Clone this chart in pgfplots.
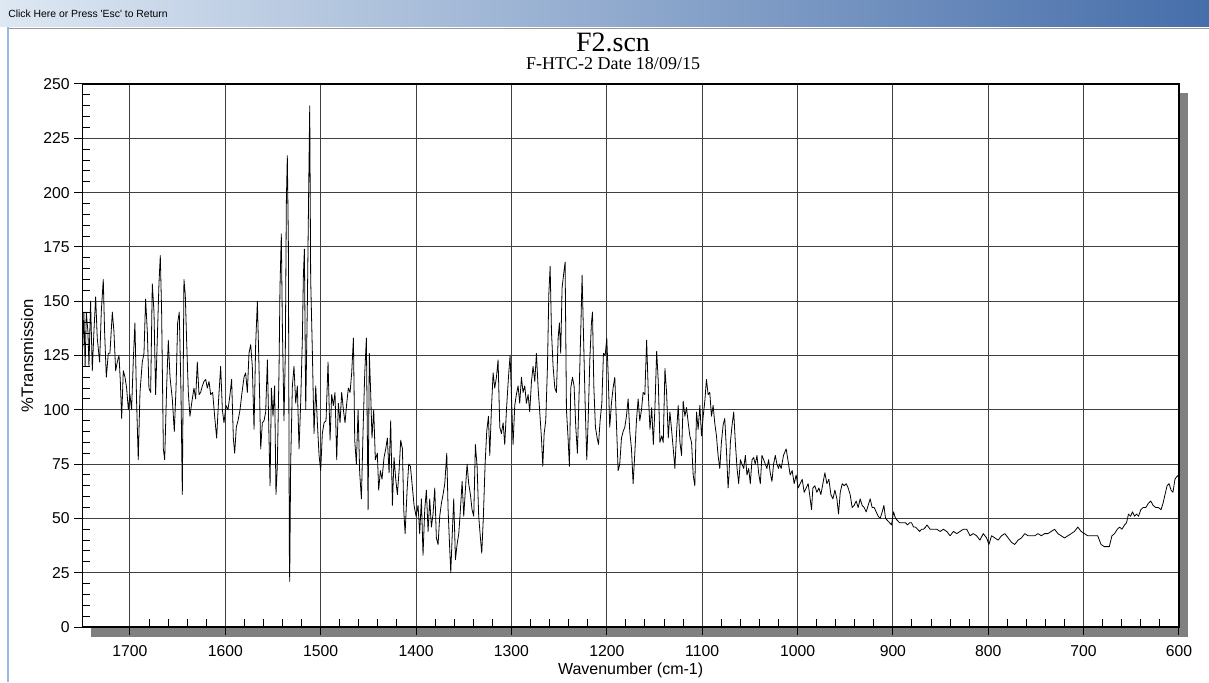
\documentclass[border=0pt]{standalone}
\usepackage{fontspec}
\setmainfont{Liberation Sans}
\newfontfamily\ttlfont{Liberation Serif}
\usepackage{pgfplots}
\pgfplotsset{compat=1.18}
\definecolor{shadowgray}{RGB}{128,128,128}
\definecolor{barleft}{RGB}{222,232,243}
\definecolor{barmid}{RGB}{170,195,225}
\definecolor{barright}{RGB}{70,110,170}
\definecolor{frameblue}{RGB}{150,185,225}
\begin{document}
\begin{tikzpicture}[x=0.75pt,y=0.75pt]
\useasboundingbox (0,0) rectangle (1209,682);
\fill[white] (0,0) rectangle (1209,682);
% window title bar
\shade[left color=barleft, middle color=barmid, right color=barright] (0,655) rectangle (1209,682);
\node[anchor=west, inner sep=0pt, font=\fontsize{7.8}{9}\selectfont] at (8,668) {Click Here or Press \textquotesingle Esc\textquotesingle\ to Return};
\draw[frameblue, line width=1.5pt] (8,0) -- (8,655);
\draw[black!40, line width=0.6pt] (9,654) -- (1209,654);
% titles
\node[font=\ttlfont\fontsize{21}{23}\selectfont] at (613,640) {F2.scn};
\node[font=\ttlfont\fontsize{13.5}{15}\selectfont] at (613,618) {F-HTC-2 Date 18/09/15};
% shadow of the plot box
\fill[shadowgray] (91.3,45) rectangle (1188,589);
\begin{axis}[
  at={(61.725pt,41.25pt)}, anchor=south west, scale only axis,
  width=822.5pt, height=407.25pt,
  x dir=reverse, xmin=600, xmax=1750, ymin=0, ymax=250,
  xtick={600,700,...,1700}, ytick={0,25,...,250},
  minor x tick num=4, minor y tick num=4,
  grid=major, major grid style={black!75, line width=0.75pt},
  axis background/.style={fill=white},
  axis line style={black, line width=0.9pt},
  xtick pos=left, ytick pos=left,
  tick align=outside, major tick length=6pt, minor tick length=6pt,
  tick style={black, line width=0.75pt},
  minor x tick style={yshift=6pt},
  minor y tick style={xshift=6pt},
  ticklabel style={font=\fontsize{11.8}{13}\selectfont},
  xticklabel style={yshift=-4.5pt},
  /pgf/number format/assume math mode=true,
  /pgf/number format/set thousands separator={},
  xlabel={Wavenumber (cm-1)}, ylabel={\%Transmission},
  xlabel style={font=\fontsize{12}{14}\selectfont, at={(axis description cs:0.5,-0.079)}, anchor=center},
  ylabel style={font=\fontsize{12.5}{14}\selectfont, at={(axis description cs:-0.0502,0.5)}, anchor=center},
]
\addplot[black, line width=0.6pt, line join=round] table {
x y
1749.5 128
1748.3 145
1747.0 120
1745.8 145
1744.1 136
1743.0 120
1741.3 150
1739.5 118
1737.8 136
1736.0 152
1734.3 133
1731.8 122
1730.1 145
1728.0 160
1726.6 136
1724.8 115
1722.7 126
1721.0 126
1718.5 145
1716.8 136
1715.0 118
1713.3 122
1711.5 125
1710.1 113
1708.7 96
1707.0 118
1705.2 115
1703.5 110
1701.7 100
1700.0 107
1698.3 100
1696.5 123
1694.8 140
1693.0 103
1691.3 77
1689.5 108
1687.1 122
1685.3 126
1683.6 151
1681.8 136
1680.1 110
1678.3 108
1676.6 158
1674.8 145
1673.1 107
1671.3 133
1669.6 158
1668.2 171
1666.8 145
1665.0 82
1663.6 77
1661.5 111
1659.8 132
1658.0 115
1655.6 105
1653.5 90
1651.7 110
1650.0 140
1648.3 145
1646.5 108
1645.1 61
1643.4 160
1642.0 153
1640.6 132
1638.8 108
1637.1 97
1635.3 103
1632.9 110
1631.1 105
1629.4 122
1627.6 107
1625.9 108
1624.1 111
1622.4 113
1620.6 114
1618.9 110
1617.1 113
1615.4 107
1613.3 108
1611.2 97
1609.1 87
1607.0 105
1604.9 120
1603.1 100
1601.4 94
1599.3 102
1597.2 100
1595.1 107
1593.4 114
1591.6 87
1590.2 80
1588.5 92
1586.7 95
1584.6 100
1582.5 108
1580.4 115
1578.7 117
1576.9 108
1575.2 126
1573.4 130
1571.7 120
1569.9 91
1568.2 130
1566.4 150
1564.7 120
1562.9 82
1561.2 94
1559.4 95
1557.7 99
1555.9 123
1554.2 87
1553.1 65
1551.7 110
1550.0 97
1548.3 111
1546.9 61
1545.5 74
1543.7 118
1542.7 156
1541.3 181
1540.2 139
1538.5 95
1537.1 126
1536.0 196
1535.0 217
1533.9 177
1532.9 36
1532.5 21
1531.5 75
1529.7 111
1528.0 120
1526.2 103
1524.5 111
1522.7 82
1521.0 103
1519.2 133
1518.2 161
1517.1 174
1515.7 100
1514.0 148
1512.6 201
1511.5 240
1510.5 160
1508.7 126
1507.0 89
1505.2 111
1503.5 94
1501.7 79
1500.0 72
1498.3 89
1496.5 94
1494.4 95
1492.3 122
1490.2 86
1488.5 107
1486.7 102
1485.0 108
1483.2 77
1481.5 103
1479.7 94
1478.0 108
1476.2 100
1474.5 94
1472.7 103
1471.0 110
1469.2 108
1467.5 117
1465.7 133
1464.3 86
1462.6 75
1460.8 100
1459.1 71
1457.3 59
1455.6 90
1453.8 117
1452.1 133
1450.3 54
1449.0 126
1447.6 108
1446.2 87
1444.4 100
1442.7 77
1440.6 80
1439.2 63
1437.4 72
1435.7 68
1433.6 78
1431.8 82
1430.1 87
1428.3 71
1426.6 95
1424.8 56
1423.1 78
1421.3 68
1419.6 61
1417.8 72
1416.1 86
1414.3 82
1412.9 54
1411.5 43
1409.4 63
1407.7 75
1405.9 74
1404.2 66
1402.1 56
1400.0 51
1397.9 56
1396.2 43
1394.4 59
1392.7 33
1390.9 54
1389.2 63
1387.4 44
1385.7 59
1383.9 46
1382.2 52
1380.4 64
1378.7 41
1376.9 38
1375.2 51
1373.4 57
1371.7 61
1369.9 66
1367.8 80
1366.4 54
1364.7 36
1363.6 25
1362.2 41
1360.5 59
1358.7 31
1357.0 38
1355.2 43
1353.5 54
1351.7 67
1350.0 51
1348.3 63
1346.5 75
1344.8 66
1343.0 61
1341.3 54
1339.5 51
1337.8 84
1336.0 74
1334.3 51
1332.5 41
1331.1 34
1329.4 51
1327.6 75
1325.9 90
1324.1 97
1322.7 79
1321.0 100
1319.2 117
1317.5 110
1315.7 115
1314.0 123
1312.2 92
1310.5 89
1308.7 94
1307.0 84
1305.2 100
1303.1 115
1301.4 125
1300.0 107
1298.3 84
1296.5 102
1294.8 107
1293.0 111
1291.3 103
1289.5 115
1287.8 108
1286.0 111
1284.3 103
1282.5 107
1280.8 99
1279.0 113
1277.3 120
1275.5 113
1273.8 126
1272.0 110
1270.3 99
1268.5 87
1267.1 74
1265.7 89
1264.0 95
1262.2 120
1260.8 153
1259.4 166
1258.0 136
1256.3 120
1254.5 110
1252.8 108
1251.0 133
1249.7 140
1248.3 126
1246.9 156
1245.1 163
1243.7 168
1242.3 100
1240.6 87
1239.2 74
1237.8 110
1236.0 115
1234.3 111
1232.5 92
1230.8 80
1229.0 108
1227.3 136
1225.9 162
1224.5 136
1222.7 103
1221.0 77
1219.6 94
1217.8 123
1216.1 140
1215.0 145
1213.6 111
1211.9 92
1210.1 87
1208.7 84
1207.0 95
1205.2 103
1203.5 126
1201.7 125
1200.0 133
1198.6 117
1196.9 92
1195.1 103
1193.4 110
1191.6 115
1189.9 94
1188.1 72
1186.4 75
1184.6 87
1182.9 90
1181.1 92
1179.4 97
1177.6 105
1175.9 90
1174.1 82
1172.4 66
1170.6 80
1168.9 95
1167.1 105
1165.4 95
1163.6 100
1161.9 108
1160.1 107
1158.2 132
1156.4 107
1154.7 91
1152.9 101
1151.2 84
1149.5 101
1147.7 127
1146.0 113
1144.3 85
1142.5 88
1140.8 85
1139.0 119
1137.3 108
1135.5 87
1133.8 99
1132.1 91
1130.3 82
1128.6 73
1126.8 90
1125.1 102
1123.3 85
1121.6 79
1119.9 104
1118.1 97
1116.4 101
1114.6 94
1112.9 88
1111.1 85
1109.4 70
1107.7 65
1105.9 99
1104.2 91
1102.4 102
1100.7 88
1098.9 97
1097.2 104
1095.5 114
1093.7 107
1092.0 108
1090.2 97
1088.5 102
1086.8 94
1085.0 88
1083.3 79
1081.5 73
1079.8 85
1078.0 93
1076.3 96
1074.6 82
1072.8 64
1071.8 70
1070.4 85
1068.6 93
1066.9 99
1065.2 85
1063.4 73
1061.7 66
1059.9 77
1058.2 75
1056.4 73
1054.7 79
1053.0 70
1051.2 73
1049.5 66
1047.7 77
1046.0 78
1044.3 75
1042.5 79
1040.8 71
1039.0 66
1037.3 79
1035.5 77
1033.8 75
1032.1 73
1030.3 77
1028.6 71
1026.8 67
1025.1 75
1023.3 79
1021.6 75
1019.9 73
1018.9 75
1017.1 73
1014.7 79
1011.9 82
1010.1 77
1007.7 70
1005.6 72
1003.5 66
1001.4 70
999.3 64
997.2 66
995.1 68
993.0 62
990.9 64
988.8 66
986.7 59
985.3 54
983.9 64
981.8 65
979.7 62
977.6 64
975.5 61
973.4 66
971.3 71
969.2 66
967.1 68
965.0 61
962.9 59
960.8 63
958.7 59
957.0 52
955.2 62
953.1 66
951.0 65
948.9 66
946.9 64
944.8 61
942.7 55
940.6 56
938.5 58
936.4 55
934.3 59
932.2 56
930.1 55
928.0 53
925.9 56
923.8 59
921.7 55
919.6 55
917.5 53
915.4 51
913.3 50
911.2 53
909.4 56
907.7 50
905.6 49
903.5 48
901.4 47
899.3 53
897.2 50
895.1 49
893.0 48
890.9 48
888.8 48
886.7 48
884.6 47
882.5 48
880.4 48
878.3 46
876.2 46
874.1 45
872.0 44
869.9 45
867.8 45
865.7 46
864.3 47
860.9 45
857.4 45
853.9 45
850.4 44
847.0 45
843.5 44
840.0 42
836.5 44
833.0 43
829.6 44
826.1 45
822.6 45
819.1 42
815.7 43
812.2 42
808.7 40
805.2 43
801.7 41
799.3 38
796.5 42
793.0 41
789.6 40
786.1 42
782.6 43
779.1 41
775.7 39
772.2 38
768.7 40
765.2 41
761.7 43
758.3 42
754.8 42
751.3 42
747.8 43
744.3 42
740.9 43
737.4 43
733.9 44
730.4 45
727.0 43
723.5 42
720.0 41
716.5 42
713.0 43
709.6 44
706.1 46
702.6 44
699.1 43
695.7 42
692.2 42
688.7 42
685.2 42
681.7 38
678.3 37
675.5 37
673.0 37
670.3 42
667.5 43
664.7 45
662.1 46
659.8 45
657.0 47
655.0 48
652.9 52
650.8 51
648.7 53
646.6 51
644.5 52
642.4 51
640.0 54
637.6 55
634.8 55
632.0 57
629.6 58
627.1 56
624.3 55
621.6 55
618.8 54
616.7 57
614.6 61
612.5 65
610.4 66
608.3 63
606.3 62
604.2 68
602.8 69
600.5 70
};
\end{axis}
\end{tikzpicture}
\end{document}
